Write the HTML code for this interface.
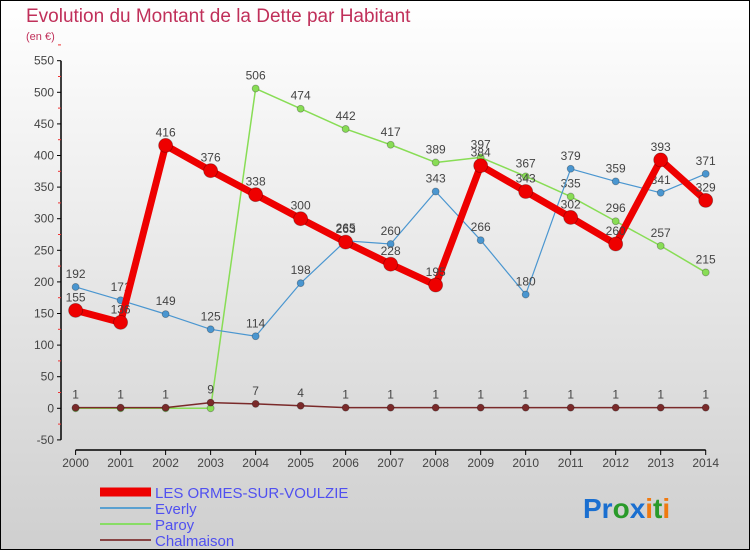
<!DOCTYPE html>
<html><head><meta charset="utf-8"><style>
html,body{margin:0;padding:0}
body{width:750px;height:550px;overflow:hidden;font-family:"Liberation Sans",sans-serif}
#wrap{position:relative;width:748px;height:548px;border:1px solid #000;background:linear-gradient(#ffffff,#cfcfcf)}
</style></head><body>
<div id="wrap">
<svg id="chart" width="748" height="548" viewBox="1 1 748 548" xmlns="http://www.w3.org/2000/svg">
<text x="26" y="22" font-size="19" fill="#c0305a">Evolution du Montant de la Dette par Habitant</text>
<text x="26" y="40" font-size="11" fill="#c0305a">(en €)</text>
<g id="axes"></g><g id="series"></g>
<g>
<line x1="100" y1="492" x2="151" y2="492" stroke="#e00" stroke-width="9"/>
<text x="155" y="498" font-size="15" fill="#5050f0">LES ORMES-SUR-VOULZIE</text>
<line x1="100" y1="508" x2="151" y2="508" stroke="#5aa0d0" stroke-width="2"/>
<text x="155" y="514" font-size="15" fill="#5050f0">Everly</text>
<line x1="100" y1="524" x2="151" y2="524" stroke="#88dd66" stroke-width="2"/>
<text x="155" y="530" font-size="15" fill="#5050f0">Paroy</text>
<line x1="100" y1="540" x2="151" y2="540" stroke="#884444" stroke-width="2"/>
<text x="155" y="546" font-size="15" fill="#5050f0">Chalmaison</text>
</g>
<text x="583" y="518" font-size="28" font-weight="bold"><tspan fill="#1a6fd0">Pr</tspan><tspan fill="#2a9a2a">o</tspan><tspan fill="#1a6fd0">x</tspan><tspan fill="#f07a10">i</tspan><tspan fill="#2a9a2a">t</tspan><tspan fill="#f07a10">i</tspan></text>
</svg></div>
<script>
const years=[2000,2001,2002,2003,2004,2005,2006,2007,2008,2009,2010,2011,2012,2013,2014];
const yTicks=[-50,0,50,100,150,200,250,300,350,400,450,500,550];
const ormes=[155,136,416,376,338,300,263,228,195,384,343,302,260,393,329];
const everly=[192,171,149,125,114,198,265,260,343,266,180,379,359,341,371];
const paroy=[0,0,0,0,506,474,442,417,389,397,367,335,296,257,215];
const paroyLabelFrom=3;
const chalmaison=[1,1,1,9,7,4,1,1,1,1,1,1,1,1,1];
const NS="http://www.w3.org/2000/svg";
function xs(i){return 75.6+i*(705.7-75.6)/(years.length-1);}
function ys(v){return 408.3-v*0.632;}
function el(t,a,p){const e=document.createElementNS(NS,t);for(const k in a)e.setAttribute(k,a[k]);p.appendChild(e);return e;}
const ax=document.getElementById('axes');
const yl=el('line',{x1:61,y1:ys(550),x2:61,y2:ys(-50),stroke:'#000','stroke-width':1.5},ax);


yTicks.forEach(v=>{
 el('line',{x1:57,y1:ys(v),x2:61,y2:ys(v),stroke:'#000'},ax);
 el('line',{x1:58,y1:ys(v+25),x2:61,y2:ys(v+25),stroke:'#e33'},ax);
 const t=el('text',{x:54,y:ys(v)+4,'font-size':12,fill:'#444','text-anchor':'end'},ax);
 
 
 t.textContent=v;
});
const xl=el('line',{x1:75.6,y1:450,x2:705.7,y2:450,stroke:'#000','stroke-width':1.5},ax);


years.forEach((y,i)=>{
 el('line',{x1:xs(i),y1:450,x2:xs(i),y2:455,stroke:'#000'},ax);
 const t=el('text',{x:xs(i),y:467,'font-size':12,fill:'#444','text-anchor':'middle'},ax);
 
 
 t.textContent=y;
});
const sg=document.getElementById('series');
function draw(data,name,color,w,r,from){
 const g=el('g',{},sg);
 
 
 const pts=data.map((v,i)=>xs(i)+','+ys(v)).join(' ');
 el('polyline',{points:pts,fill:'none',stroke:color,'stroke-width':w,'stroke-linejoin':'round'},g);
 data.forEach((v,i)=>{
  const c=el('circle',{cx:xs(i),cy:ys(v),r:r,fill:color,stroke:'rgba(0,0,0,0.3)','stroke-width':0.8},g);
  
  
  if(i>=from){
   const t=el('text',{x:xs(i),y:ys(v)-9,'font-size':12,fill:'#444','text-anchor':'middle'},g);
   
   
   t.textContent=v;
  }
 });
}
draw(paroy,'paroy','#88dd55',1.5,3.5,paroyLabelFrom+1);
draw(everly,'everly','#4a96d0',1.2,3.5,0);
draw(ormes,'ormes','#ee0000',7,7,0);
draw(chalmaison,'chalmaison','#7a2a2a',1.5,3.5,0);
</script>
</body></html>
